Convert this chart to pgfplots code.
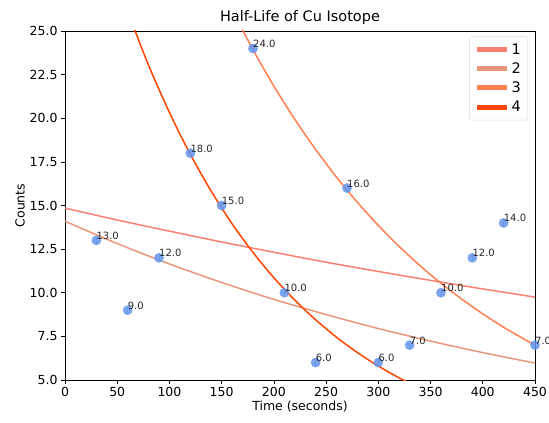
\documentclass[border=0pt]{standalone}
\usepackage{fontspec}
\setmainfont{DejaVu Sans}
\usepackage{pgfplots}
\pgfplotsset{compat=1.18}
\definecolor{c1}{HTML}{FA8072}
\definecolor{c2}{HTML}{E9967A}
\definecolor{c3}{HTML}{FF7F50}
\definecolor{c4}{HTML}{FF4500}
\definecolor{pts}{HTML}{6495ED}
\begin{document}
\begin{tikzpicture}
\useasboundingbox (-65pt,-43pt) rectangle (484pt,380pt);
\begin{axis}[
  scale only axis, width=470pt, height=349pt,
  xmin=0, xmax=450, ymin=5, ymax=25,
  xtick={0,50,...,450}, ytick={5,7.5,...,25},
  yticklabel style={/pgf/number format/.cd, fixed, fixed zerofill, precision=1},
  /pgf/number format/assume math mode=true,
  tick label style={font=\fontsize{12.5}{14}\selectfont},
  tick align=outside, tick style={black, semithick}, major tick length=4pt,
  xtick pos=bottom, ytick pos=left,
  title={Half-Life of Cu Isotope},
  title style={font=\fontsize{14.5}{16}\selectfont, yshift=-3pt},
  xlabel={Time (seconds)}, ylabel={Counts},
  label style={font=\fontsize{12.5}{14}\selectfont},
  ylabel style={yshift=-2pt}, xlabel style={yshift=3pt},
  legend style={at={(0.985,0.985)}, anchor=north east, draw=black!15,
    rounded corners=2pt, font=\fontsize{14.5}{18}\selectfont,
    row sep=3pt, inner sep=5pt},
  legend cell align=left,
  legend image code/.code={\draw[line width=5pt,#1] (0cm,0cm) -- (1.05cm,0cm);},
]
\addplot[c1, line width=1.5pt, smooth] coordinates {
  (0,14.85) (50,14.17) (100,13.53) (150,12.91) (200,12.32) (250,11.75)
  (300,11.22) (350,10.71) (400,10.22) (450,9.75)};
\addlegendentry{1}
\addplot[c2, line width=1.5pt, smooth] coordinates {
  (0,14.10) (50,12.82) (100,11.65) (150,10.59) (200,9.62) (250,8.75)
  (300,7.95) (350,7.23) (400,6.57) (450,5.97)};
\addlegendentry{2}
\addplot[c3, line width=1.5pt, smooth] coordinates {
  (160,26.21) (180,23.93) (200,21.84) (220,19.94) (240,18.21) (260,16.62)
  (280,15.18) (300,13.86) (320,12.65) (340,11.55) (360,10.54) (380,9.63)
  (400,8.79) (420,8.02) (440,7.33) (450,7.00)};
\addlegendentry{3}
\addplot[c4, line width=1.5pt, smooth] coordinates {
  (60,26.12) (80,23.04) (100,20.33) (120,17.93) (140,15.82) (160,13.95)
  (180,12.31) (200,10.86) (220,9.58) (240,8.45) (260,7.45) (280,6.57)
  (300,5.80) (320,5.12) (340,4.51)};
\addlegendentry{4}
\addplot[only marks, mark=*, mark size=4.6pt, color=pts,
  mark options={solid, draw=pts, fill=pts, opacity=0.85},
  error bars/.cd, y dir=both, y explicit,
  error bar style={black!40, line width=0.7pt}, error mark=none,
  ] coordinates {
  (30,13) +- (0,0.2) (60,9) +- (0,0.2) (90,12) +- (0,0.2)
  (120,18) +- (0,0.2) (150,15) +- (0,0.2) (180,24) +- (0,0.2)
  (210,10) +- (0,0.2) (240,6) +- (0,0.2) (270,16) +- (0,0.2)
  (300,6) +- (0,0.2) (330,7) +- (0,0.2) (360,10) +- (0,0.2)
  (390,12) +- (0,0.2) (420,14) +- (0,0.2) (450,7) +- (0,0.2)};
\addplot[only marks, mark=none, point meta=y,
  nodes near coords={\pgfmathprintnumber[fixed, fixed zerofill, precision=1]{\pgfplotspointmeta}},
  nodes near coords style={anchor=base west, inner sep=0pt, text=black!85,
    font=\fontsize{10}{11}\selectfont, xshift=0pt, yshift=1pt},
  ] coordinates {
  (30,13) (60,9) (90,12) (120,18) (150,15) (180,24) (210,10) (240,6)
  (270,16) (300,6) (330,7) (360,10) (390,12) (420,14) (450,7)};
\end{axis}
\end{tikzpicture}
\end{document}
